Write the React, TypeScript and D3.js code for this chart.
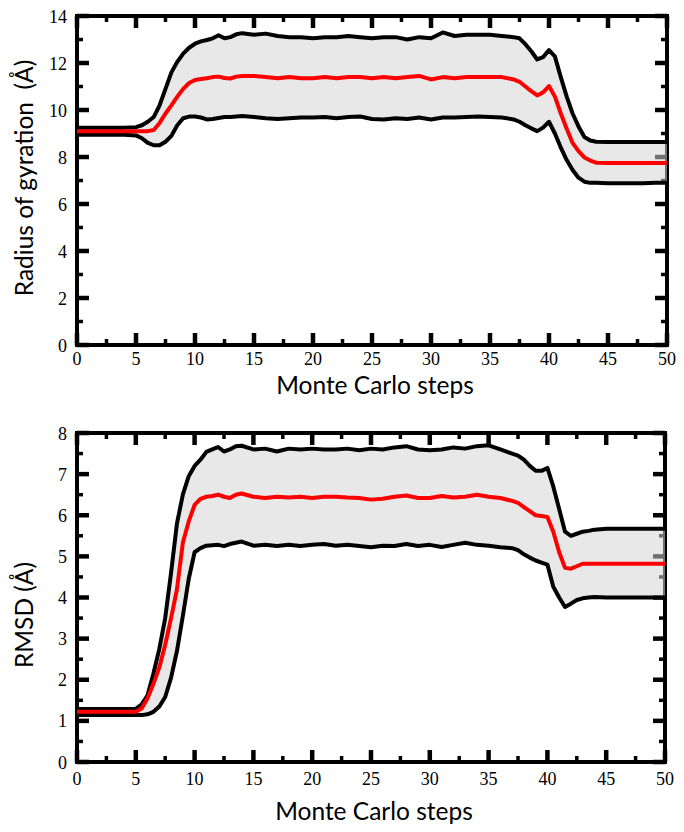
import React from "react";
import * as d3 from "d3";

// ---------- Radius of gyration (top panel) ----------
const rgSteps = [0, 1, 2, 3, 4, 5, 5.5, 6, 6.5, 7, 7.5, 8, 8.5, 9, 9.5, 10, 10.5, 11, 11.5, 12, 12.5, 13, 13.5, 14,
  15, 16, 17, 18, 19, 20, 21, 22, 23, 24, 25, 26, 27, 28, 29, 30, 31, 32, 33, 34, 35, 36, 37,
  37.5, 38, 38.5, 39, 39.5, 40, 40.5, 41, 41.5, 42, 42.5, 43, 43.5, 44, 45, 46, 47, 48, 49, 50];
const rgUpper = [9.25, 9.25, 9.25, 9.25, 9.25, 9.27, 9.35, 9.5, 9.7, 10.2, 10.9, 11.6, 12.05, 12.4, 12.65, 12.82, 12.92, 12.98, 13.05, 13.18, 13.05, 13.1, 13.22, 13.27,
  13.2, 13.25, 13.15, 13.1, 13.1, 13.05, 13.1, 13.1, 13.15, 13.1, 13.05, 13.1, 13.1, 13.0, 13.1, 13.05, 13.3, 13.15, 13.2, 13.2, 13.2, 13.15, 13.1,
  13.05, 12.8, 12.5, 12.15, 12.25, 12.55, 12.28, 11.4, 10.57, 9.85, 9.3, 8.85, 8.7, 8.65, 8.64, 8.64, 8.64, 8.64, 8.64, 8.64];
const rgMean = [9.1, 9.1, 9.1, 9.1, 9.1, 9.1, 9.1, 9.1, 9.15, 9.45, 9.85, 10.2, 10.57, 10.9, 11.15, 11.28, 11.32, 11.35, 11.4, 11.42, 11.36, 11.34, 11.42, 11.45,
  11.45, 11.4, 11.35, 11.4, 11.35, 11.35, 11.4, 11.35, 11.4, 11.4, 11.35, 11.4, 11.35, 11.4, 11.45, 11.3, 11.4, 11.35, 11.4, 11.4, 11.4, 11.4, 11.3,
  11.2, 11.0, 10.8, 10.62, 10.75, 11.02, 10.57, 9.85, 9.2, 8.6, 8.25, 7.98, 7.85, 7.76, 7.74, 7.74, 7.74, 7.74, 7.74, 7.74];
const rgLower = [8.95, 8.95, 8.95, 8.95, 8.95, 8.92, 8.8, 8.6, 8.5, 8.5, 8.65, 8.9, 9.35, 9.65, 9.72, 9.72, 9.68, 9.6, 9.62, 9.66, 9.7, 9.7, 9.72, 9.74,
  9.7, 9.65, 9.62, 9.65, 9.68, 9.68, 9.7, 9.65, 9.7, 9.72, 9.62, 9.6, 9.65, 9.62, 9.68, 9.6, 9.68, 9.68, 9.7, 9.72, 9.7, 9.68, 9.6,
  9.5, 9.35, 9.22, 9.1, 9.25, 9.5, 9.0, 8.4, 7.87, 7.45, 7.12, 6.95, 6.9, 6.9, 6.88, 6.88, 6.88, 6.88, 6.9, 6.9];

// ---------- RMSD (bottom panel) ----------
const rmsdSteps = rgSteps;
const rmsdUpper = [1.29, 1.29, 1.29, 1.29, 1.29, 1.29, 1.4, 1.62, 2.15, 2.75, 3.5, 4.6, 5.8, 6.5, 6.95, 7.2, 7.35, 7.54, 7.6, 7.66, 7.55, 7.6, 7.68, 7.69,
  7.6, 7.62, 7.55, 7.62, 7.6, 7.62, 7.6, 7.6, 7.62, 7.58, 7.62, 7.6, 7.65, 7.68, 7.6, 7.58, 7.6, 7.65, 7.62, 7.68, 7.7, 7.6, 7.5,
  7.45, 7.35, 7.2, 7.08, 7.08, 7.15, 6.7, 6.15, 5.6, 5.5, 5.55, 5.6, 5.62, 5.65, 5.67, 5.67, 5.67, 5.67, 5.67, 5.67];
const rmsdMean = [1.22, 1.22, 1.22, 1.22, 1.22, 1.22, 1.3, 1.55, 1.9, 2.3, 2.85, 3.5, 4.2, 5.33, 5.85, 6.25, 6.4, 6.45, 6.47, 6.5, 6.45, 6.42, 6.5, 6.53,
  6.45, 6.42, 6.45, 6.43, 6.45, 6.42, 6.45, 6.45, 6.43, 6.42, 6.38, 6.4, 6.45, 6.48, 6.42, 6.42, 6.47, 6.43, 6.45, 6.5, 6.45, 6.42, 6.35,
  6.3, 6.2, 6.1, 6.0, 5.98, 5.96, 5.6, 5.1, 4.72, 4.7, 4.76, 4.82, 4.82, 4.82, 4.82, 4.82, 4.82, 4.82, 4.82, 4.82];
const rmsdLower = [1.14, 1.14, 1.14, 1.14, 1.14, 1.14, 1.14, 1.16, 1.22, 1.35, 1.58, 2.05, 2.7, 3.55, 4.45, 5.1, 5.2, 5.26, 5.27, 5.28, 5.25, 5.3, 5.33, 5.36,
  5.26, 5.28, 5.25, 5.28, 5.25, 5.28, 5.3, 5.26, 5.28, 5.25, 5.22, 5.26, 5.25, 5.3, 5.25, 5.28, 5.23, 5.28, 5.33, 5.28, 5.26, 5.22, 5.2,
  5.15, 5.05, 4.97, 4.9, 4.85, 4.8, 4.26, 4.0, 3.77, 3.85, 3.94, 3.98, 4.0, 4.01, 4.0, 4.0, 4.0, 4.0, 4.0, 4.0];

const xTickLabels = [0, 5, 10, 15, 20, 25, 30, 35, 40, 45, 50];
const rgYTickLabels = [0, 2, 4, 6, 8, 10, 12, 14];
const rmsdYTickLabels = [0, 1, 2, 3, 4, 5, 6, 7, 8];

const X_TITLE = "Monte Carlo steps";
const RG_TITLE = "Radius of gyration  (Å)";
const RMSD_TITLE = "RMSD (Å)";

const TICK_FONT = "'Liberation Serif', 'DejaVu Serif', serif";
const TITLE_FONT = "Lato, 'Open Sans', sans-serif";

type PanelProps = {
  xs: number[]; upper: number[]; mean: number[]; lower: number[];
  yMax: number; yMajorTicks: number[]; yMinorStep: number;
  left: number; right: number; top: number; bottom: number;
  xTickBaseline: number; xTitleBaseline: number;
  yTitle: string; yTitleCenter: number;
};

function Panel(p: PanelProps) {
  const x = d3.scaleLinear().domain([0, 50]).range([p.left, p.right]);
  const y = d3.scaleLinear().domain([0, p.yMax]).range([p.bottom, p.top]);
  const idx = d3.range(p.xs.length);
  const area = d3.area<number>().x(i => x(p.xs[i])).y0(i => y(p.lower[i])).y1(i => y(p.upper[i]));
  const line = (arr: number[]) => d3.line<number>().x(i => x(p.xs[i])).y(i => y(arr[i]))(idx) || "";

  const majorStep = p.yMajorTicks[1] - p.yMajorTicks[0];
  const xMajor = d3.range(0, 50.01, 5);
  const xMinor = d3.range(2.5, 50, 5);
  const yMinor = d3.range(p.yMinorStep, p.yMax, p.yMinorStep)
    .filter(v => Math.abs(v / majorStep - Math.round(v / majorStep)) > 1e-6);
  const MAJ = 12, MIN = 6;

  return (
    <g>
      {xMajor.map(v => (
        <g key={"xm" + v}>
          <line x1={x(v)} x2={x(v)} y1={p.bottom} y2={p.bottom - MAJ} stroke="#000" strokeWidth={4.5} />
          <line x1={x(v)} x2={x(v)} y1={p.top} y2={p.top + MAJ} stroke="#000" strokeWidth={4.5} />
        </g>
      ))}
      {xMinor.map(v => (
        <g key={"xn" + v}>
          <line x1={x(v)} x2={x(v)} y1={p.bottom} y2={p.bottom - MIN} stroke="#000" strokeWidth={3.5} />
          <line x1={x(v)} x2={x(v)} y1={p.top} y2={p.top + MIN} stroke="#000" strokeWidth={3.5} />
        </g>
      ))}
      {p.yMajorTicks.map(v => (
        <g key={"ym" + v}>
          <line x1={p.left} x2={p.left + MAJ} y1={y(v)} y2={y(v)} stroke="#000" strokeWidth={4.5} />
          <line x1={p.right} x2={p.right - MAJ} y1={y(v)} y2={y(v)} stroke="#000" strokeWidth={4.5} />
        </g>
      ))}
      {yMinor.map(v => (
        <g key={"yn" + v}>
          <line x1={p.left} x2={p.left + MIN} y1={y(v)} y2={y(v)} stroke="#000" strokeWidth={3.5} />
          <line x1={p.right} x2={p.right - MIN} y1={y(v)} y2={y(v)} stroke="#000" strokeWidth={3.5} />
        </g>
      ))}
      <rect x={p.left} y={p.top} width={p.right - p.left} height={p.bottom - p.top} fill="none" stroke="#000" strokeWidth={4} />
      <path d={area(idx) || ""} fill="rgb(211,211,211)" fillOpacity={0.53} />
      <path d={line(p.upper)} fill="none" stroke="#000" strokeWidth={4} strokeLinejoin="round" />
      <path d={line(p.lower)} fill="none" stroke="#000" strokeWidth={4} strokeLinejoin="round" />
      <path d={line(p.mean)} fill="none" stroke="#ff0000" strokeWidth={4} strokeLinejoin="round" />
      {xTickLabels.map(v => (
        <text key={"xl" + v} x={x(v)} y={p.xTickBaseline} textAnchor="middle" fontFamily={TICK_FONT} fontSize={18} fill="#000">{v}</text>
      ))}
      {p.yMajorTicks.map(v => (
        <text key={"yl" + v} x={p.left - 10} y={y(v) + 6.5} textAnchor="end" fontFamily={TICK_FONT} fontSize={18} fill="#000">{v}</text>
      ))}
      <text x={(p.left + p.right) / 2 + 3} y={p.xTitleBaseline} textAnchor="middle" fontFamily={TITLE_FONT} fontSize={24.5} fill="#000">{X_TITLE}</text>
      <text transform={`translate(33,${p.yTitleCenter}) rotate(-90)`} textAnchor="middle" fontFamily={TITLE_FONT} fontSize={24.5} fill="#000" style={{ whiteSpace: "pre" }}>{p.yTitle}</text>
    </g>
  );
}

export default function App() {
  return (
    <svg width={684} height={832} style={{ position: "absolute", left: 0, top: 0, background: "#fff" }}>
      <rect x={0} y={0} width={684} height={832} fill="#fff" />
      <Panel xs={rgSteps} upper={rgUpper} mean={rgMean} lower={rgLower}
        yMax={14} yMajorTicks={rgYTickLabels} yMinorStep={1}
        left={77} right={667} top={16} bottom={345}
        xTickBaseline={365} xTitleBaseline={394}
        yTitle={RG_TITLE} yTitleCenter={178} />
      <Panel xs={rmsdSteps} upper={rmsdUpper} mean={rmsdMean} lower={rmsdLower}
        yMax={8} yMajorTicks={rmsdYTickLabels} yMinorStep={0.5}
        left={77} right={665} top={433} bottom={762}
        xTickBaseline={785} xTitleBaseline={820}
        yTitle={RMSD_TITLE} yTitleCenter={615} />
    </svg>
  );
}
